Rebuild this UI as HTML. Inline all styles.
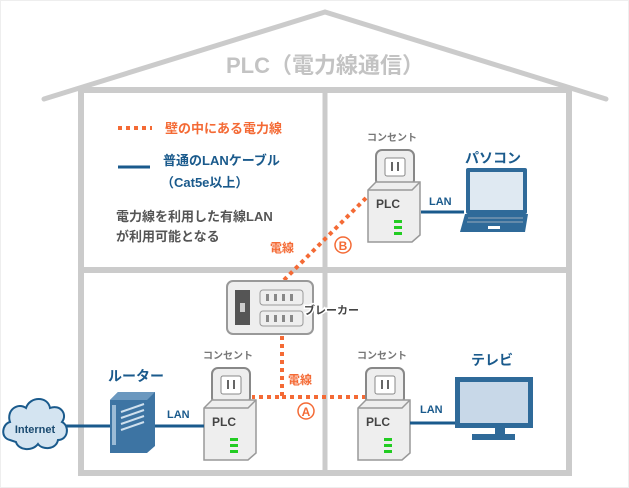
<!DOCTYPE html>
<html><head><meta charset="utf-8"><style>
html,body{margin:0;padding:0;background:#fff}
svg{display:block}
text{font-family:"Liberation Sans","Noto Sans CJK JP",sans-serif;font-weight:bold}
</style></head><body>
<svg width="629" height="488" viewBox="0 0 629 488" xmlns="http://www.w3.org/2000/svg">
<rect x="0.5" y="0.5" width="628" height="487" fill="#fff" stroke="#eee"/>
<!-- house -->
<polyline points="44,99 325,12 606,99" fill="none" stroke="#cbcbcb" stroke-width="5" stroke-linecap="round"/>
<text x="325" y="73" font-size="22" fill="#c3c3c3" text-anchor="middle">PLC（電力線通信）</text>
<rect x="81" y="90" width="488" height="383" fill="none" stroke="#cbcbcb" stroke-width="6"/>
<line x1="325" y1="90" x2="325" y2="473" stroke="#cbcbcb" stroke-width="5"/>
<line x1="81" y1="270" x2="569" y2="270" stroke="#cbcbcb" stroke-width="6"/>
<!-- legend -->
<line x1="118" y1="128" x2="152" y2="128" stroke="#f46a35" stroke-width="4" stroke-dasharray="4,4"/>
<text x="165" y="133" font-size="13" fill="#f46a35">壁の中にある電力線</text>
<line x1="118" y1="167" x2="150" y2="167" stroke="#1a5a8c" stroke-width="3"/>
<text x="163" y="165" font-size="13" fill="#1a5a8c">普通のLANケーブル</text>
<text x="161" y="187" font-size="13" fill="#1a5a8c">（Cat5e以上）</text>
<text x="116" y="221" font-size="13" fill="#555">電力線を利用した有線LAN</text>
<text x="116" y="241" font-size="13" fill="#555">が利用可能となる</text>
<!-- power lines -->
<polyline points="366,198 283,281" fill="none" stroke="#f46a35" stroke-width="4" stroke-dasharray="4,4"/>
<polyline points="282,336 282,397 252,397" fill="none" stroke="#f46a35" stroke-width="4" stroke-dasharray="4,4"/>
<line x1="282" y1="397" x2="370" y2="397" stroke="#f46a35" stroke-width="4" stroke-dasharray="4,4"/>
<text x="270" y="252" font-size="12" fill="#f46a35">電線</text>
<circle cx="343" cy="245" r="8" fill="#fff" stroke="#f46a35" stroke-width="1.5"/>
<text x="343" y="250" font-size="12" fill="#f46a35" text-anchor="middle">B</text>
<text x="288" y="384" font-size="12" fill="#f46a35">電線</text>
<circle cx="306" cy="411" r="8" fill="#fff" stroke="#f46a35" stroke-width="1.5"/>
<text x="306" y="416" font-size="12" fill="#f46a35" text-anchor="middle">A</text>
<!-- breaker -->
<rect x="227" y="281" width="86" height="53" rx="6" fill="#eee" stroke="#999" stroke-width="2"/>
<rect x="235" y="290" width="15" height="35" fill="#555"/>
<rect x="240" y="303" width="5" height="9" fill="#ccc"/>
<rect x="260" y="290" width="43" height="15" rx="3" fill="#eee" stroke="#999"/>
<rect x="260" y="311" width="43" height="15" rx="3" fill="#eee" stroke="#999"/>
<g fill="#888"><rect x="266" y="294" width="3" height="7"/><rect x="274" y="294" width="3" height="7"/><rect x="282" y="294" width="3" height="7"/><rect x="290" y="294" width="3" height="7"/>
<rect x="266" y="315" width="3" height="7"/><rect x="274" y="315" width="3" height="7"/><rect x="282" y="315" width="3" height="7"/><rect x="290" y="315" width="3" height="7"/></g>
<text x="304" y="314" font-size="11" fill="#444" stroke="#fff" stroke-width="3" paint-order="stroke">ブレーカー</text>
<!-- PLC devices -->
<defs>
<g id="plc">
<text x="24" y="-9" font-size="10" fill="#777" text-anchor="middle" font-weight="normal">コンセント</text>
<rect x="8" y="0" width="38" height="36" rx="6" fill="#eee" stroke="#888" stroke-width="2"/>
<rect x="17" y="8" width="20" height="18" rx="2" fill="#fff" stroke="#888"/>
<rect x="23" y="12" width="2" height="9" fill="#666"/><rect x="29" y="12" width="2" height="9" fill="#666"/>
<polygon points="0,40 8,32 52,32 52,85 44,92 0,92" fill="#eee" stroke="#999" stroke-width="1.5"/>
<polyline points="0,40 44,40 52,32 M44,40 44,92" fill="none" stroke="#999" stroke-width="1.5"/>
<text x="8" y="58" font-size="12" fill="#444">PLC</text>
<rect x="26" y="70" width="8" height="3" fill="#2c2"/><rect x="26" y="76" width="8" height="3" fill="#2c2"/><rect x="26" y="82" width="8" height="3" fill="#2c2"/>
</g>
</defs>
<use href="#plc" x="368" y="150"/>
<use href="#plc" x="204" y="368"/>
<use href="#plc" x="358" y="368"/>
<!-- LAN lines -->
<g stroke="#1a5a8c" stroke-width="3">
<line x1="421" y1="212" x2="464" y2="212"/>
<line x1="410" y1="423" x2="456" y2="423"/>
<line x1="155" y1="426" x2="204" y2="426"/>
<line x1="66" y1="426" x2="110" y2="426"/>
</g>
<g font-size="11" fill="#1a5a8c">
<text x="429" y="205">LAN</text><text x="420" y="413">LAN</text><text x="167" y="418">LAN</text>
</g>
<!-- laptop -->
<text x="493" y="163" font-size="14" fill="#1a5a8c" text-anchor="middle">パソコン</text>
<rect x="466" y="168" width="61" height="46" rx="2" fill="#2f6a99"/>
<rect x="470" y="172" width="53" height="38" fill="#dfe9f2"/>
<polygon points="465,214 528,214 525,232 460,232" fill="#2f6a99"/>
<rect x="488" y="226" width="12" height="3" fill="#fff"/>
<g stroke="#9ab" stroke-width="1"><line x1="468" y1="218" x2="523" y2="218"/><line x1="467" y1="222" x2="523" y2="222"/></g>
<!-- TV -->
<text x="492" y="365" font-size="14" fill="#1a5a8c" text-anchor="middle">テレビ</text>
<rect x="455" y="377" width="78" height="51" fill="#2f6a99"/>
<rect x="460" y="382" width="68" height="41" fill="#c8d8e8"/>
<rect x="495" y="428" width="10" height="6" fill="#2f6a99"/>
<rect x="472" y="434" width="43" height="6" fill="#2f6a99"/>
<!-- router -->
<text x="136" y="381" font-size="14" fill="#1a5a8c" text-anchor="middle">ルーター</text>
<polygon points="110,400 118,392 155,392 155,446 147,453 110,453" fill="#3d74a3"/>
<polygon points="110,400 118,392 155,392 147,400" fill="#6b98bf"/>
<rect x="112" y="405" width="4" height="40" fill="#9bbbd6"/>
<g stroke="#cfe0ee" stroke-width="2"><line x1="121" y1="412" x2="144" y2="404"/><line x1="121" y1="418" x2="144" y2="410"/><line x1="121" y1="424" x2="144" y2="416"/><line x1="121" y1="430" x2="144" y2="422"/></g>
<!-- cloud -->
<path d="M10,440 C0,438 2,424 10,422 C6,410 18,402 26,408 C30,396 48,396 50,408 C60,404 68,414 62,422 C70,426 68,440 58,440 C56,450 42,450 38,444 C32,452 18,450 16,442 Z" fill="#d4e4f1" stroke="#1a5a8c" stroke-width="2"/>
<text x="35" y="433" font-size="11" fill="#1a4a70" text-anchor="middle">Internet</text>
</svg>
</body></html>
